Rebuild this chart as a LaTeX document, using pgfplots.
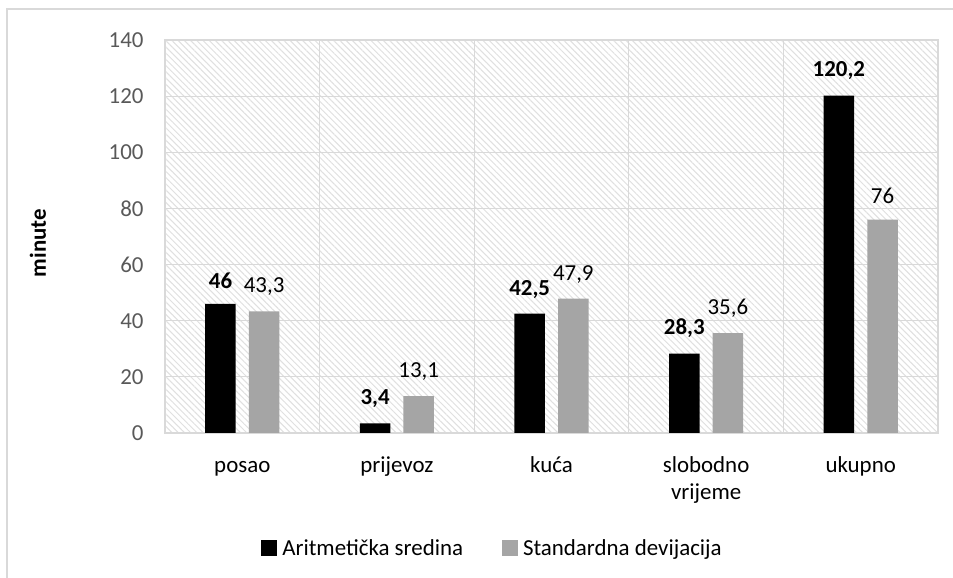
\documentclass[border=0pt]{standalone}
\usepackage{pgfplots}
\pgfplotsset{compat=1.18}
\usepackage{fontspec}
\setmainfont{Carlito}
\usetikzlibrary{patterns.meta}
\definecolor{gridc}{HTML}{D9D9D9}
\definecolor{hatchc}{HTML}{E0E0E0}
\definecolor{barg}{HTML}{A5A5A5}
\definecolor{txt}{HTML}{595959}
\begin{document}
\begin{tikzpicture}[x=1bp,y=1bp]
\path[use as bounding box] (-165,-145) rectangle (788,433);
\draw[gridc, line width=1.2bp] (-158,-145) -- (-158,424) -- (788,424);
\node[rotate=90, font=\fontsize{23}{26}\selectfont\bfseries, anchor=center] at (-127,190) {minute};
\begin{axis}[
  at={(0,0)}, anchor=south west,
  scale only axis, width=773bp, height=393bp,
  xmin=-0.5, xmax=4.5, ymin=0, ymax=140,
  ytick={0,20,...,140},
  xtick={0,1,2,3,4},
  xticklabels={\strut posao,\strut prijevoz,\strut kuća,\strut slobodno\\vrijeme,\strut ukupno},
  xticklabel style={align=center, text=black, font=\fontsize{23}{28}\selectfont, yshift=-16bp},
  minor xtick={0.5,1.5,2.5,3.5},
  xminorgrids, ymajorgrids,
  grid style={gridc, line width=1bp},
  minor grid style={gridc, line width=1bp},
  axis line style={gridc, line width=1.2bp},
  major tick length=0pt, minor tick length=0pt,
  yticklabel style={text=txt, font=\fontsize{23}{26}\selectfont, xshift=-18bp},
  /pgf/number format/assume math mode=true,
  axis background/.style={preaction={fill=white}, pattern={Lines[angle=-45, distance=4.4bp, line width=1bp]}, pattern color=hatchc},
  ybar, bar width=30.5bp,
  nodes near coords,
  nodes near coords style={font=\fontsize{23}{26}\selectfont, text=black, /pgf/number format/use comma, yshift=12bp},
  legend style={at={(327.5bp,-115bp)}, anchor=center, draw=none, fill=none, legend columns=2, font=\fontsize{23}{26}\selectfont, /tikz/every even column/.append style={column sep=37bp}},
  legend image code/.code={\fill[#1] (0bp,-8bp) rectangle (16bp,8bp); \path (19bp,0bp);},
]
\addplot[fill=black, draw=none, bar shift=-21.8bp, nodes near coords style={font=\fontsize{23}{26}\selectfont\bfseries}] coordinates {(0,46) (1,3.4) (2,42.5) (3,28.3) (4,120.2)};
\addplot[fill=barg, draw=none, bar shift=21.8bp] coordinates {(0,43.3) (1,13.1) (2,47.9) (3,35.6) (4,76)};
\legend{Aritmetička sredina, Standardna devijacija}
\end{axis}
\end{tikzpicture}
\end{document}
